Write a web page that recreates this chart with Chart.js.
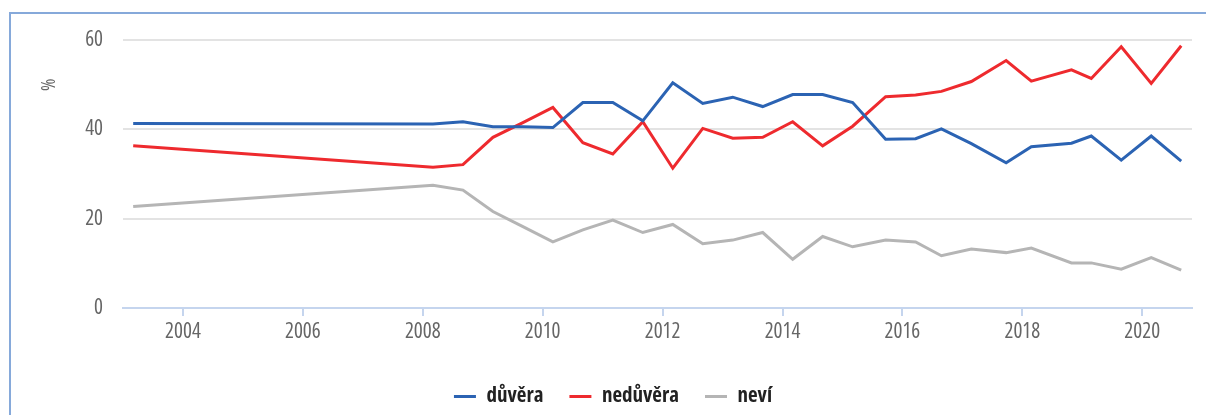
<!DOCTYPE html>
<html>
<head>
<meta charset="utf-8">
<script src="https://cdn.jsdelivr.net/npm/chart.js@4"></script>
<style>
    body { margin: 0; background: #fff; }
    #frame {
        position: absolute; left: 9px; top: 12px; right: 0; bottom: 0;
        border-left: 2px solid #86a9da; border-top: 2px solid #86a9da;
    }
    #wrap { position: absolute; left: 0; top: 0; width: 1206px; height: 415px; }
</style>
</head>
<body>
<div id="frame"></div>
<div id="wrap"><canvas id="chart"></canvas></div>
<script>
// survey dates (decimal years)
const surveyDates = [2003.17, 2008.17, 2008.67, 2009.17, 2009.67, 2010.17, 2010.67, 2011.17, 2011.67,
    2012.17, 2012.67, 2013.17, 2013.67, 2014.17, 2014.67, 2015.17, 2015.72, 2016.22, 2016.65,
    2017.15, 2017.73, 2018.15, 2018.82, 2019.15, 2019.65, 2020.15, 2020.65];

const duvera = [41.3, 41.2, 41.7, 40.6, 40.6, 40.4, 46.0, 46.0, 41.9, 50.4, 45.8, 47.2, 45.1, 47.8,
    47.8, 46.0, 37.8, 37.9, 40.1, 36.8, 32.5, 36.1, 36.9, 38.5, 33.1, 38.5, 32.9];
const neduvera = [36.3, 31.5, 32.1, 38.2, 41.5, 44.9, 37.0, 34.5, 41.7, 31.3, 40.2, 38.0, 38.2, 41.7,
    36.3, 40.7, 47.3, 47.7, 48.5, 50.7, 55.4, 50.8, 53.3, 51.4, 58.5, 50.3, 58.7];
const nevi = [22.7, 27.5, 26.4, 21.6, 18.2, 14.8, 17.5, 19.7, 16.9, 18.7, 14.4, 15.2, 16.9, 10.9,
    16.0, 13.7, 15.2, 14.8, 11.7, 13.2, 12.4, 13.4, 10.1, 10.1, 8.7, 11.3, 8.5];

const tickYears = [2004, 2006, 2008, 2010, 2012, 2014, 2016, 2018, 2020];
const yTicks = [0, 20, 40, 60];

// Open Sans has a width axis, "condensed" gets close to the original narrow face
const FONT = '"Open Sans", sans-serif';

function toPoints(values) {
    return values.map((v, i) => ({ x: surveyDates[i], y: v }));
}

// draws the rotated "%" next to the y axis
const yTitle = {
    id: 'yTitle',
    afterDraw(chart) {
        const y = chart.scales.y;
        const ctx = chart.ctx;
        ctx.save();
        ctx.translate(y.right - 73, y.getPixelForValue(50));
        ctx.rotate(-Math.PI / 2);
        ctx.fillStyle = '#666';
        ctx.font = 'condensed 19px ' + FONT;
        ctx.textAlign = 'center';
        ctx.textBaseline = 'middle';
        ctx.fillText('%', 0, 0);
        ctx.restore();
    }
};

new Chart(document.getElementById('chart'), {
    type: 'line',
    data: {
        datasets: [
            { label: 'důvěra', data: toPoints(duvera), borderColor: '#2b63b3', backgroundColor: '#2b63b3' },
            { label: 'nedůvěra', data: toPoints(neduvera), borderColor: '#ee2a2e', backgroundColor: '#ee2a2e' },
            { label: 'neví', data: toPoints(nevi), borderColor: '#b5b5b5', backgroundColor: '#b5b5b5' }
        ]
    },
    options: {
        responsive: true,
        maintainAspectRatio: false,
        animation: false,
        datasets: { line: { borderWidth: 3, pointRadius: 0, tension: 0, fill: false } },
        layout: { padding: { top: 40, right: 14, bottom: -2, left: 34 } },
        plugins: {
            tooltip: { enabled: false },
            legend: {
                position: 'bottom',
                labels: {
                    usePointStyle: true,
                    pointStyle: 'line',
                    pointStyleWidth: 22,
                    boxHeight: 3,
                    padding: 26,
                    color: '#222',
                    font: { family: FONT, size: 21, weight: 'bold condensed' }
                }
            }
        },
        scales: {
            x: {
                type: 'linear',
                min: 2003,
                max: 2020.83,
                afterBuildTicks: axis => { axis.ticks = tickYears.map(v => ({ value: v })); },
                afterFit: axis => { axis.height = 52; },
                grid: { drawOnChartArea: false, drawTicks: true, tickLength: 8, color: '#c5d5ee', lineWidth: 2 },
                border: { color: '#c5d5ee', width: 2 },
                ticks: {
                    padding: 3,
                    color: '#666',
                    font: { family: FONT, size: 21, weight: 'condensed' },
                    callback: v => String(v)
                }
            },
            y: {
                min: 0,
                max: 60,
                afterBuildTicks: axis => { axis.ticks = yTicks.map(v => ({ value: v })); },
                afterFit: axis => { axis.width = 89; },
                grid: { drawTicks: false, color: '#e3e3e3', lineWidth: 2 },
                border: { display: false },
                ticks: {
                    padding: 20,
                    color: '#666',
                    font: { family: FONT, size: 21, weight: 'condensed' }
                }
            }
        }
    },
    plugins: [yTitle]
});
</script>
</body>
</html>
